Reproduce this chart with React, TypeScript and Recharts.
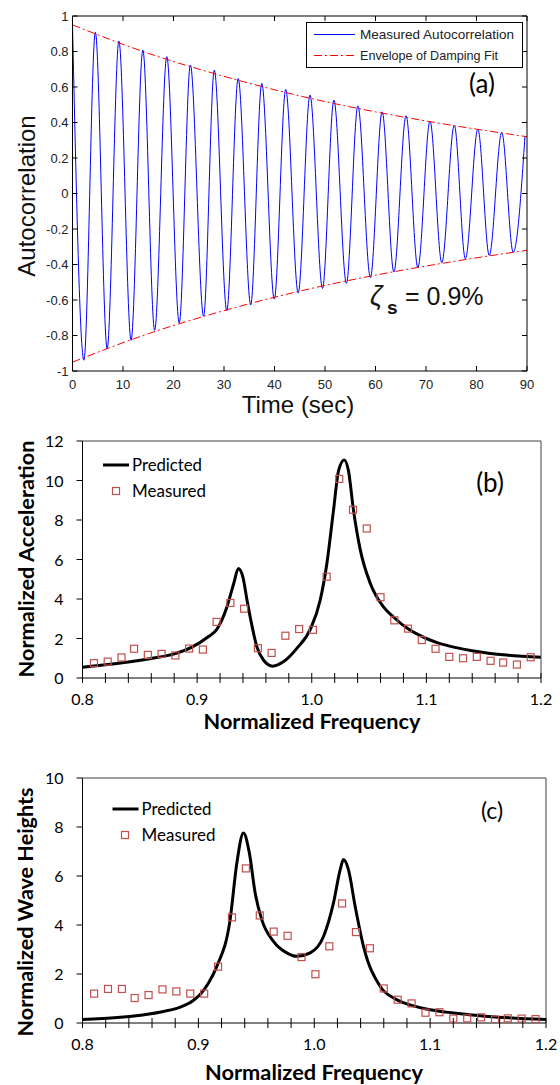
import { ComposedChart, Line, Scatter, XAxis, YAxis, Legend } from "recharts"

// (a) autocorrelation: peaks / troughs
const peakTimes = [0, 4.53, 9.19, 13.93, 18.67, 23.34, 28.08, 32.81, 37.48, 42.22, 47.03, 51.76, 56.51, 61.31, 66.05, 70.79, 75.6, 80.27, 85.0, 89.6]
const peakValues = [0.95, 0.908, 0.859, 0.808, 0.771, 0.724, 0.695, 0.648, 0.62, 0.586, 0.555, 0.526, 0.494, 0.46, 0.438, 0.408, 0.385, 0.363, 0.344, 0.323]
const troughTimes = [2.26, 6.86, 11.6, 16.27, 21.14, 25.96, 30.55, 35.29, 39.96, 44.69, 49.5, 54.24, 58.99, 63.64, 68.39, 73.13, 77.8, 82.53, 87.27]
const troughValues = [-0.939, -0.874, -0.827, -0.771, -0.729, -0.691, -0.66, -0.628, -0.595, -0.561, -0.535, -0.506, -0.474, -0.442, -0.418, -0.39, -0.368, -0.349, -0.331]
const envTimes = [0, 15, 30, 45, 60, 75, 90]
const envUpper = [0.95, 0.79, 0.66, 0.55, 0.46, 0.385, 0.32]
const envLower = [-0.95, -0.79, -0.66, -0.55, -0.46, -0.385, -0.32]
const timeTicks = [0, 10, 20, 30, 40, 50, 60, 70, 80, 90]
const acTicks = [-1, -0.8, -0.6, -0.4, -0.2, 0, 0.2, 0.4, 0.6, 0.8, 1]

// (b) and (c): measured points share the same frequencies
const measFreq = [0.810, 0.822, 0.834, 0.845, 0.857, 0.869, 0.881, 0.893, 0.905, 0.917, 0.929, 0.941, 0.953, 0.965, 0.977, 0.989, 1.001, 1.013, 1.024, 1.036, 1.048, 1.060, 1.072, 1.084, 1.096, 1.108, 1.120, 1.132, 1.144, 1.156, 1.167, 1.179, 1.191]
const accMeasured = [0.75, 0.83, 1.04, 1.48, 1.17, 1.22, 1.14, 1.49, 1.44, 2.84, 3.80, 3.51, 1.51, 1.27, 2.14, 2.48, 2.44, 5.13, 10.08, 8.52, 7.57, 4.09, 2.92, 2.50, 1.92, 1.48, 1.07, 1.00, 1.07, 0.87, 0.78, 0.68, 1.05]
const accPredFreq = [0.8, 0.82, 0.84, 0.86, 0.88, 0.895, 0.91, 0.917, 0.926, 0.932, 0.936, 0.94, 0.9435, 0.948, 0.952, 0.958, 0.966, 0.9755, 0.987, 0.999, 1.0074, 1.0132, 1.019, 1.0234, 1.0283, 1.032, 1.0364, 1.0423, 1.051, 1.0626, 1.071, 1.085, 1.1, 1.11, 1.125, 1.141, 1.17, 1.2]
const accPredicted = [0.55, 0.67, 0.81, 0.99, 1.22, 1.55, 2.1, 2.45, 3.6, 4.8, 5.55, 5.1, 3.95, 2.6, 1.6, 0.9, 0.6, 0.83, 1.5, 2.5, 3.95, 5.8, 8.5, 10.5, 11.04, 10.5, 8.5, 6.5, 4.8, 3.6, 3.1, 2.45, 2.0, 1.78, 1.55, 1.37, 1.16, 1.05]
const waveMeasured = [1.20, 1.39, 1.39, 1.02, 1.14, 1.37, 1.29, 1.20, 1.20, 2.30, 4.31, 6.31, 4.39, 3.73, 3.56, 2.69, 1.99, 3.13, 4.88, 3.71, 3.05, 1.41, 0.95, 0.80, 0.42, 0.44, 0.18, 0.19, 0.23, 0.14, 0.19, 0.18, 0.16]
const wavePredFreq = [0.8, 0.83, 0.85, 0.87, 0.885, 0.895, 0.9015, 0.909, 0.9159, 0.9274, 0.9332, 0.9389, 0.944, 0.949, 0.9547, 0.9648, 0.9763, 0.985, 0.9965, 1.008, 1.0166, 1.0224, 1.0252, 1.0295, 1.0353, 1.0425, 1.0569, 1.07, 1.082, 1.1, 1.12, 1.15, 1.2]
const wavePredicted = [0.14, 0.22, 0.32, 0.47, 0.66, 0.9, 1.16, 1.65, 2.31, 4.22, 6.53, 7.76, 6.94, 5.31, 4.22, 3.33, 2.86, 2.72, 2.86, 3.53, 4.9, 6.26, 6.67, 6.26, 4.76, 3.13, 1.49, 0.98, 0.75, 0.54, 0.41, 0.27, 0.14]
const freqTicks = [0.8, 0.82, 0.84, 0.86, 0.88, 0.9, 0.92, 0.94, 0.96, 0.98, 1.0, 1.02, 1.04, 1.06, 1.08, 1.1, 1.12, 1.14, 1.16, 1.18, 1.2]
const freqLabels = [0.8, 0.9, 1.0, 1.1, 1.2]
const accTicks = [0, 2, 4, 6, 8, 10, 12]
const waveTicks = [0, 2, 4, 6, 8, 10]

const acData = [
  ...peakTimes.map((t, i) => ({ t, v: peakValues[i] })),
  ...troughTimes.map((t, i) => ({ t, v: troughValues[i] })),
].sort((a, b) => a.t - b.t)
const envData = envTimes.map((t, i) => ({ t, up: envUpper[i], lo: envLower[i] }))
const accMeasData = measFreq.map((f, i) => ({ f, v: accMeasured[i] }))
const accPredData = accPredFreq.map((f, i) => ({ f, v: accPredicted[i] }))
const waveMeasData = measFreq.map((f, i) => ({ f, v: waveMeasured[i] }))
const wavePredData = wavePredFreq.map((f, i) => ({ f, v: wavePredicted[i] }))

const ARIAL = "'Liberation Sans', Arial, sans-serif"
const LATO = "Lato, 'Open Sans', sans-serif"
const RED = "#c0504d"

// ---- tick renderers ----
const timeTick = (p: any) => (
  <g>
    <line x1={p.x} x2={p.x} y1={p.y} y2={p.y - 5} stroke="#000" />
    <text x={p.x} y={p.y + 18} textAnchor="middle" fontSize={13} fontFamily={ARIAL} fill="#222">
      {p.payload.value}
    </text>
  </g>
)
const topTick = (p: any) => <line x1={p.x} x2={p.x} y1={p.y} y2={p.y + 5} stroke="#000" />
const acTick = (p: any) => (
  <g>
    <line x1={p.x} x2={p.x + 5} y1={p.y} y2={p.y} stroke="#000" />
    <text x={p.x - 4} y={p.y + 4.5} textAnchor="end" fontSize={13} fontFamily={ARIAL} fill="#222">
      {String(Math.round(p.payload.value * 10) / 10)}
    </text>
  </g>
)
const rightTick = (p: any) => <line x1={p.x} x2={p.x - 5} y1={p.y} y2={p.y} stroke="#000" />

const freqTick = (p: any) => {
  const v = p.payload.value
  const major = freqLabels.some((m) => Math.abs(m - v) < 1e-6)
  return (
    <g>
      <line x1={p.x} x2={p.x} y1={p.y - 5} y2={p.y + 5} stroke="#000" />
      {major && (
        <text x={p.x} y={p.y + 27} textAnchor="middle" fontSize={16} fontFamily={LATO} fill="#000">
          {v.toFixed(1)}
        </text>
      )}
    </g>
  )
}
const valTick = (p: any) => (
  <g>
    <line x1={p.x - 6} x2={p.x} y1={p.y} y2={p.y} stroke="#000" />
    <text x={p.x - 19} y={p.y + 6} textAnchor="end" fontSize={16} fontFamily={LATO} fill="#000">
      {p.payload.value}
    </text>
  </g>
)

const square = (p: any) => (
  <rect x={p.cx - 3.5} y={p.cy - 3.5} width={7} height={7} fill="none" stroke={RED} strokeWidth={1.2} />
)

// ---- legends ----
const LegendA = () => (
  <svg width={217} height={46} style={{ display: "block" }}>
    <rect x={0.5} y={0.5} width={216} height={45} fill="#fff" stroke="#000" />
    <line x1={8} x2={49} y1={12.5} y2={12.5} stroke="#0000ff" />
    <text x={54} y={17} fontSize={13.5} fontFamily={ARIAL} fill="#222" textLength={154} lengthAdjust="spacingAndGlyphs">
      Measured Autocorrelation
    </text>
    <line x1={8} x2={49} y1={33.5} y2={33.5} stroke="#ff0000" strokeDasharray="8 3 2 3" />
    <text x={54} y={38} fontSize={13.5} fontFamily={ARIAL} fill="#222" textLength={138} lengthAdjust="spacingAndGlyphs">
      Envelope of Damping Fit
    </text>
  </svg>
)

const FreqLegend = ({ lineX, sqX }: { lineX: number; sqX: number }) => (
  <svg width={140} height={60} style={{ display: "block" }}>
    <line x1={lineX} x2={lineX + 26} y1={14} y2={14} stroke="#000" strokeWidth={3} />
    <text x={lineX + 29} y={20} fontSize={18} fontFamily={LATO} fill="#000" textLength={70} lengthAdjust="spacingAndGlyphs">
      Predicted
    </text>
    <rect x={sqX - 3.5} y={40 - 3.5} width={7} height={7} fill="none" stroke={RED} strokeWidth={1.2} />
    <text x={lineX + 29} y={46} fontSize={18} fontFamily={LATO} fill="#000" textLength={74} lengthAdjust="spacingAndGlyphs">
      Measured
    </text>
  </svg>
)

const axisCommon = {
  type: "number" as const,
  tickSize: 0,
  tickMargin: 0,
  tickLine: false,
  interval: 0 as const,
  allowDataOverflow: true,
}

export default function App() {
  return (
    <div style={{ position: "absolute", left: 0, top: 0, width: 560, height: 1085, background: "#fff" }}>
      {/* (a) */}
      <div style={{ position: "absolute", left: 0, top: 0 }}>
        <ComposedChart width={560} height={420} margin={{ top: 15, right: 32, bottom: 19, left: 0 }}>
          <XAxis {...axisCommon} xAxisId="b" dataKey="t" domain={[0, 90]} ticks={timeTicks} height={30} axisLine={{ stroke: "#000" }} tick={timeTick} />
          <XAxis {...axisCommon} xAxisId="t" orientation="top" dataKey="t" domain={[0, 90]} ticks={timeTicks} height={1} axisLine={{ stroke: "#000" }} tick={topTick} />
          <YAxis {...axisCommon} yAxisId="l" domain={[-1, 1]} ticks={acTicks} width={72.5} axisLine={{ stroke: "#000" }} tick={acTick} />
          <YAxis {...axisCommon} yAxisId="r" orientation="right" domain={[-1, 1]} ticks={acTicks} width={1} axisLine={{ stroke: "#000" }} tick={rightTick} />
          <Line xAxisId="b" yAxisId="l" data={acData} dataKey="v" type="monotone" stroke="#0000ff" strokeWidth={1} dot={false} isAnimationActive={false} />
          <Line xAxisId="b" yAxisId="l" data={envData} dataKey="up" type="monotone" stroke="#ff0000" strokeWidth={1} strokeDasharray="8 3 2 3" dot={false} isAnimationActive={false} />
          <Line xAxisId="b" yAxisId="l" data={envData} dataKey="lo" type="monotone" stroke="#ff0000" strokeWidth={1} strokeDasharray="8 3 2 3" dot={false} isAnimationActive={false} />
          <Legend layout="vertical" align="center" verticalAlign="middle" wrapperStyle={{ position: "absolute", left: 306, top: 22, width: 217, height: 46 }} content={() => <LegendA />} />
        </ComposedChart>
      </div>

      {/* (b) */}
      <div style={{ position: "absolute", left: 0, top: 400 }}>
        <ComposedChart width={560} height={320} margin={{ top: 40, right: 18, bottom: 12, left: 0 }}>
          <XAxis {...axisCommon} xAxisId="b" dataKey="f" domain={[0.8, 1.2]} ticks={freqTicks} height={30} axisLine={{ stroke: "#000" }} tick={freqTick} />
          <XAxis {...axisCommon} xAxisId="t" orientation="top" dataKey="f" domain={[0.8, 1.2]} height={1} axisLine={{ stroke: "#404040" }} tick={false} />
          <YAxis {...axisCommon} yAxisId="l" domain={[0, 12]} ticks={accTicks} width={82.5} axisLine={{ stroke: "#000" }} tick={valTick} />
          <YAxis {...axisCommon} yAxisId="r" orientation="right" domain={[0, 12]} width={1} axisLine={{ stroke: "#404040" }} tick={false} />
          <Line xAxisId="b" yAxisId="l" data={accPredData} dataKey="v" type="monotone" stroke="#000" strokeWidth={3} dot={false} isAnimationActive={false} />
          <Scatter xAxisId="b" yAxisId="l" data={accMeasData} dataKey="v" shape={square} isAnimationActive={false} />
          <Legend layout="vertical" align="center" verticalAlign="middle" wrapperStyle={{ position: "absolute", left: 100, top: 51, width: 140, height: 60 }} content={() => <FreqLegend lineX={3} sqX={16} />} />
        </ComposedChart>
      </div>

      {/* (c) */}
      <div style={{ position: "absolute", left: 0, top: 740 }}>
        <ComposedChart width={560} height={345} margin={{ top: 37, right: 13, bottom: 32, left: 0 }}>
          <XAxis {...axisCommon} xAxisId="b" dataKey="f" domain={[0.8, 1.2]} ticks={freqTicks} height={30} axisLine={{ stroke: "#000" }} tick={freqTick} />
          <XAxis {...axisCommon} xAxisId="t" orientation="top" dataKey="f" domain={[0.8, 1.2]} height={1} axisLine={{ stroke: "#404040" }} tick={false} />
          <YAxis {...axisCommon} yAxisId="l" domain={[0, 10]} ticks={waveTicks} width={82.5} axisLine={{ stroke: "#000" }} tick={valTick} />
          <YAxis {...axisCommon} yAxisId="r" orientation="right" domain={[0, 10]} width={1} axisLine={{ stroke: "#404040" }} tick={false} />
          <Line xAxisId="b" yAxisId="l" data={wavePredData} dataKey="v" type="monotone" stroke="#000" strokeWidth={3} dot={false} isAnimationActive={false} />
          <Scatter xAxisId="b" yAxisId="l" data={waveMeasData} dataKey="v" shape={square} isAnimationActive={false} />
          <Legend layout="vertical" align="center" verticalAlign="middle" wrapperStyle={{ position: "absolute", left: 110, top: 55, width: 140, height: 60 }} content={() => <FreqLegend lineX={2.5} sqX={15} />} />
        </ComposedChart>
      </div>

      {/* titles and annotations */}
      <svg width={560} height={1085} style={{ position: "absolute", left: 0, top: 0, pointerEvents: "none" }}>
        <text transform="translate(35,196) rotate(-90)" textAnchor="middle" fontSize={24} fontFamily={ARIAL} fill="#111">
          Autocorrelation
        </text>
        <text x={298} y={413} textAnchor="middle" fontSize={24} fontFamily={ARIAL} fill="#111">
          Time (sec)
        </text>
        <text x={482} y={93} textAnchor="middle" fontSize={26} fontFamily={LATO} fill="#000">
          (a)
        </text>
        <text y={305} fontFamily={ARIAL} fill="#111">
          <tspan x={370} fontSize={27} fontStyle="italic">ζ</tspan>
          <tspan x={387} dy={9} fontSize={19} fontWeight="bold">s</tspan>
          <tspan x={405} dy={-9} fontSize={25}>= 0.9%</tspan>
        </text>

        <text transform="translate(33.5,559) rotate(-90)" textAnchor="middle" fontSize={21} fontWeight="bold" fontFamily={LATO} fill="#000" textLength={237} lengthAdjust="spacingAndGlyphs">
          Normalized Acceleration
        </text>
        <text x={312} y={729} textAnchor="middle" fontSize={20} fontWeight="bold" fontFamily={LATO} fill="#000" textLength={217} lengthAdjust="spacingAndGlyphs">
          Normalized Frequency
        </text>
        <text x={490} y={492} textAnchor="middle" fontSize={26} fontFamily={LATO} fill="#000">
          (b)
        </text>

        <text transform="translate(33,912) rotate(-90)" textAnchor="middle" fontSize={21} fontWeight="bold" fontFamily={LATO} fill="#000" textLength={249} lengthAdjust="spacingAndGlyphs">
          Normalized Wave Heights
        </text>
        <text x={314} y={1080} textAnchor="middle" fontSize={21} fontWeight="bold" fontFamily={LATO} fill="#000" textLength={218} lengthAdjust="spacingAndGlyphs">
          Normalized Frequency
        </text>
        <text x={492} y={819} textAnchor="middle" fontSize={23} fontFamily={LATO} fill="#000">
          (c)
        </text>
      </svg>
    </div>
  )
}
